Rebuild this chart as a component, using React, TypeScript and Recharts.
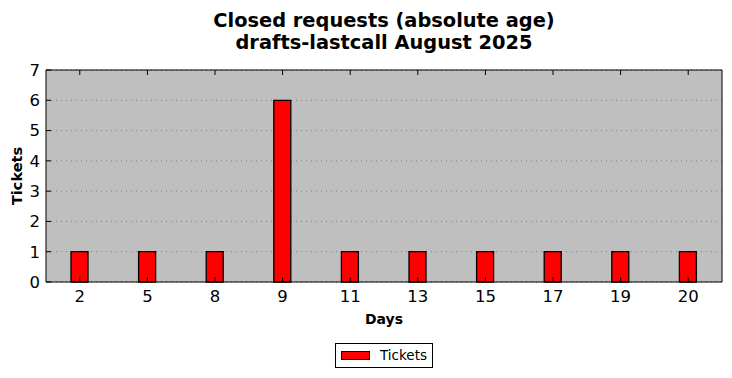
import React from 'react';
import { BarChart, Bar, XAxis, YAxis, CartesianGrid } from 'recharts';

const categories = ['2', '5', '8', '9', '11', '13', '15', '17', '19', '20'];
const tickets = [1, 1, 1, 6, 1, 1, 1, 1, 1, 1];
const yTicks = [0, 1, 2, 3, 4, 5, 6, 7];
const titleLines = ['Closed requests (absolute age)', 'drafts-lastcall August 2025'];
const seriesName = 'Tickets';

const data = categories.map((c, i) => ({ day: c, tickets: tickets[i] }));

const FONT = '"DejaVu Sans", sans-serif';

const YLabel = (props: any) => {
  const vb = props.viewBox || { x: 0, y: 0, width: 0, height: 0 };
  const cx = vb.x + 22;
  const cy = vb.y + vb.height / 2;
  return (
    <text
      x={cx}
      y={cy}
      transform={`rotate(-90, ${cx}, ${cy})`}
      textAnchor="middle"
      fontFamily={FONT}
      fontWeight="bold"
      fontSize={14.5}
      fill="#000"
    >
      Tickets
    </text>
  );
};

const XLabel = (props: any) => {
  const vb = props.viewBox || { x: 0, y: 0, width: 0, height: 0 };
  return (
    <text
      x={vb.x + vb.width / 2}
      y={vb.y + 42}
      textAnchor="middle"
      fontFamily={FONT}
      fontWeight="bold"
      fontSize={14}
      fill="#000"
    >
      Days
    </text>
  );
};

export default function App() {
  return (
    <div style={{ position: 'absolute', left: 0, top: 0, width: 732, height: 378, background: '#fff' }}>
      <div
        style={{
          position: 'absolute',
          left: 46,
          top: 10,
          width: 676,
          textAlign: 'center',
          fontFamily: FONT,
          fontWeight: 'bold',
          fontSize: 19.4,
          lineHeight: '22.3px',
          color: '#000',
        }}
      >
        {titleLines.map((l) => (
          <div key={l}>{l}</div>
        ))}
      </div>
      <BarChart
        width={732}
        height={378}
        data={data}
        margin={{ top: 69, right: 9, bottom: 46, left: 0 }}
        barCategoryGap={0}
      >
        <CartesianGrid
          vertical={false}
          fill="#bfbfbf"
          fillOpacity={1}
          stroke="#7f7f7f"
          strokeDasharray="1 4"
          horizontalValues={yTicks}
        />
        <XAxis
          dataKey="day"
          interval={0}
          height={50}
          tickSize={-5}
          tickMargin={13}
          axisLine={{ stroke: '#000', strokeWidth: 1 }}
          tickLine={{ stroke: '#000' }}
          tick={{ fill: '#000', fontSize: 16.5, fontFamily: FONT }}
          label={<XLabel />}
        />
        <XAxis
          xAxisId="top"
          dataKey="day"
          orientation="top"
          interval={0}
          height={1}
          tickSize={-5}
          axisLine={{ stroke: '#000', strokeWidth: 1 }}
          tickLine={{ stroke: '#000' }}
          tickFormatter={() => ''}
        />
        <YAxis
          type="number"
          domain={[0, 7]}
          ticks={yTicks}
          interval={0}
          width={46}
          tickSize={-5}
          tickMargin={11}
          axisLine={{ stroke: '#000', strokeWidth: 1 }}
          tickLine={{ stroke: '#000' }}
          tick={{ fill: '#000', fontSize: 16.5, fontFamily: FONT }}
          label={<YLabel />}
        />
        <YAxis
          yAxisId="right"
          orientation="right"
          type="number"
          domain={[0, 7]}
          ticks={yTicks}
          interval={0}
          width={1}
          tickSize={-5}
          axisLine={{ stroke: '#000', strokeWidth: 1 }}
          tickLine={{ stroke: '#000' }}
          tickFormatter={() => ''}
        />
        <Bar
          dataKey="tickets"
          name={seriesName}
          fill="#ff0000"
          stroke="#000"
          strokeWidth={1.3}
          barSize={17}
          isAnimationActive={false}
        />
      </BarChart>
      <div
        style={{
          position: 'absolute',
          left: 335,
          top: 343,
          width: 96,
          height: 23,
          border: '1px solid #000',
          background: '#fff',
          fontFamily: FONT,
          fontSize: 13.5,
          color: '#000',
        }}
      >
        <div
          style={{
            position: 'absolute',
            left: 5,
            top: 7,
            width: 27,
            height: 7,
            background: '#ff0000',
            border: '1px solid #000',
          }}
        />
        <div style={{ position: 'absolute', left: 44, top: 3, lineHeight: '16px', whiteSpace: 'nowrap' }}>
          {seriesName}
        </div>
      </div>
    </div>
  );
}
